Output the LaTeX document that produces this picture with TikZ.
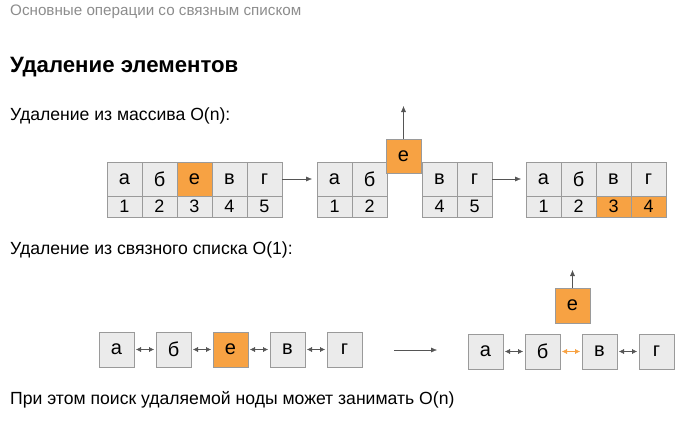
\documentclass[tikz,border=0pt]{standalone}
\usepackage{fontspec}
\setmainfont{Liberation Sans}
\usepackage{xcolor}
\usetikzlibrary{positioning, arrows.meta}
\definecolor{cellgray}{HTML}{EBEBEB}
\definecolor{cellline}{HTML}{9A9A9A}
\definecolor{hilite}{HTML}{F7A243}
\definecolor{arrowgray}{HTML}{555555}
\definecolor{captiongray}{HTML}{8C8C8C}
\tikzstyle{cell} = [rectangle, draw=cellline, fill=cellgray, minimum width=35pt, minimum height=34pt, inner sep=0pt, outer sep=0pt, font=\fontsize{20}{20}\selectfont]
\tikzstyle{idx} = [cell, minimum height=21pt, font=\fontsize{18}{18}\selectfont]
\tikzstyle{item} = [cell, minimum height=35pt]
\tikzstyle{hot} = [fill=hilite]
\tikzstyle{caption} = [anchor=west, inner sep=0pt, font=\fontsize{17.6}{17.6}\selectfont]
\tikzstyle{arrow} = [draw=arrowgray, -{Latex[length=6pt,width=5pt]}]
\tikzstyle{link} = [draw=arrowgray, {Latex[length=5pt,width=5pt]}-{Latex[length=5pt,width=5pt]}, shorten <=2pt, shorten >=2pt]

\begin{document}
\begin{tikzpicture}[x=1pt, y=-1pt, node distance=22pt]
  \useasboundingbox (0,0) rectangle (698,439);
  % texts
    \node (topic) [caption, text=captiongray, font=\fontsize{15.2}{15.2}\selectfont] at (10,12) {Основные операции со связным списком};
    \node (heading) [caption, font=\fontsize{22.2}{22.2}\selectfont\bfseries] at (10,67) {Удаление элементов};
    \node (arraytitle) [caption] at (10,116) {Удаление из массива O(n):};
    \node (listtitle) [caption] at (10,250) {Удаление из связного списка O(1):};
    \node (footnote) [caption] at (10,400) {При этом поиск удаляемой ноды может занимать O(n)};
  % array before
    \node (a1) [cell] at (124.5,179) {а};
    \node (b1) [cell, right=0pt of a1] {б};
    \node (e1) [cell, hot, right=0pt of b1] {е};
    \node (v1) [cell, right=0pt of e1] {в};
    \node (g1) [cell, right=0pt of v1] {г};
    \node (i11) [idx, below=0pt of a1] {1};
    \node (i12) [idx, below=0pt of b1] {2};
    \node (i13) [idx, below=0pt of e1] {3};
    \node (i14) [idx, below=0pt of v1] {4};
    \node (i15) [idx, below=0pt of g1] {5};
  % array while removing
    \node (a2) [cell] at (334.5,179) {а};
    \node (b2) [cell, right=0pt of a2] {б};
    \node (v2) [cell] at (439.5,179) {в};
    \node (g2) [cell, right=0pt of v2] {г};
    \node (i21) [idx, below=0pt of a2] {1};
    \node (i22) [idx, below=0pt of b2] {2};
    \node (i24) [idx, below=0pt of v2] {4};
    \node (i25) [idx, below=0pt of g2] {5};
    \node (e2) [cell, hot] at (403.5,156) {е};
    \coordinate (out2) at (403.5,106);
  % array after
    \node (a3) [cell] at (543.5,179) {а};
    \node (b3) [cell, right=0pt of a3] {б};
    \node (v3) [cell, right=0pt of b3] {в};
    \node (g3) [cell, right=0pt of v3] {г};
    \node (i31) [idx, below=0pt of a3] {1};
    \node (i32) [idx, below=0pt of b3] {2};
    \node (i33) [idx, hot, below=0pt of v3] {3};
    \node (i34) [idx, hot, below=0pt of g3] {4};
  % list before
    \node (la) [item] at (116.5,349.5) {а};
    \node (lb) [item, right=of la] {б};
    \node (le) [item, hot, right=of lb] {е};
    \node (lv) [item, right=of le] {в};
    \node (lg) [item, right=of lv] {г};
  % list after
    \node (ra) [item] at (485.5,351.5) {а};
    \node (rb) [item, right=of ra] {б};
    \node (rv) [item, right=of rb] {в};
    \node (rg) [item, right=of rv] {г};
    \node (re) [item, hot] at (572.5,305.5) {е};
    \coordinate (outr) at (572.5,270);
    \coordinate (stepfrom) at (394,350);
    \coordinate (stepto) at (437,350);
  %arrows
    \draw [arrow, shorten >=5pt] (g1) -- (a2);
    \draw [arrow, shorten >=5pt] (g2) -- (a3);
    \draw [arrow] (e2) -- (out2);
    \draw [link] (la) -- (lb);
    \draw [link] (lb) -- (le);
    \draw [link] (le) -- (lv);
    \draw [link] (lv) -- (lg);
    \draw [arrow] (stepfrom) -- (stepto);
    \draw [link] (ra) -- (rb);
    \draw [link, draw=hilite] (rb) -- (rv);
    \draw [link] (rv) -- (rg);
    \draw [arrow] (re) -- (outr);
\end{tikzpicture}
\end{document}
